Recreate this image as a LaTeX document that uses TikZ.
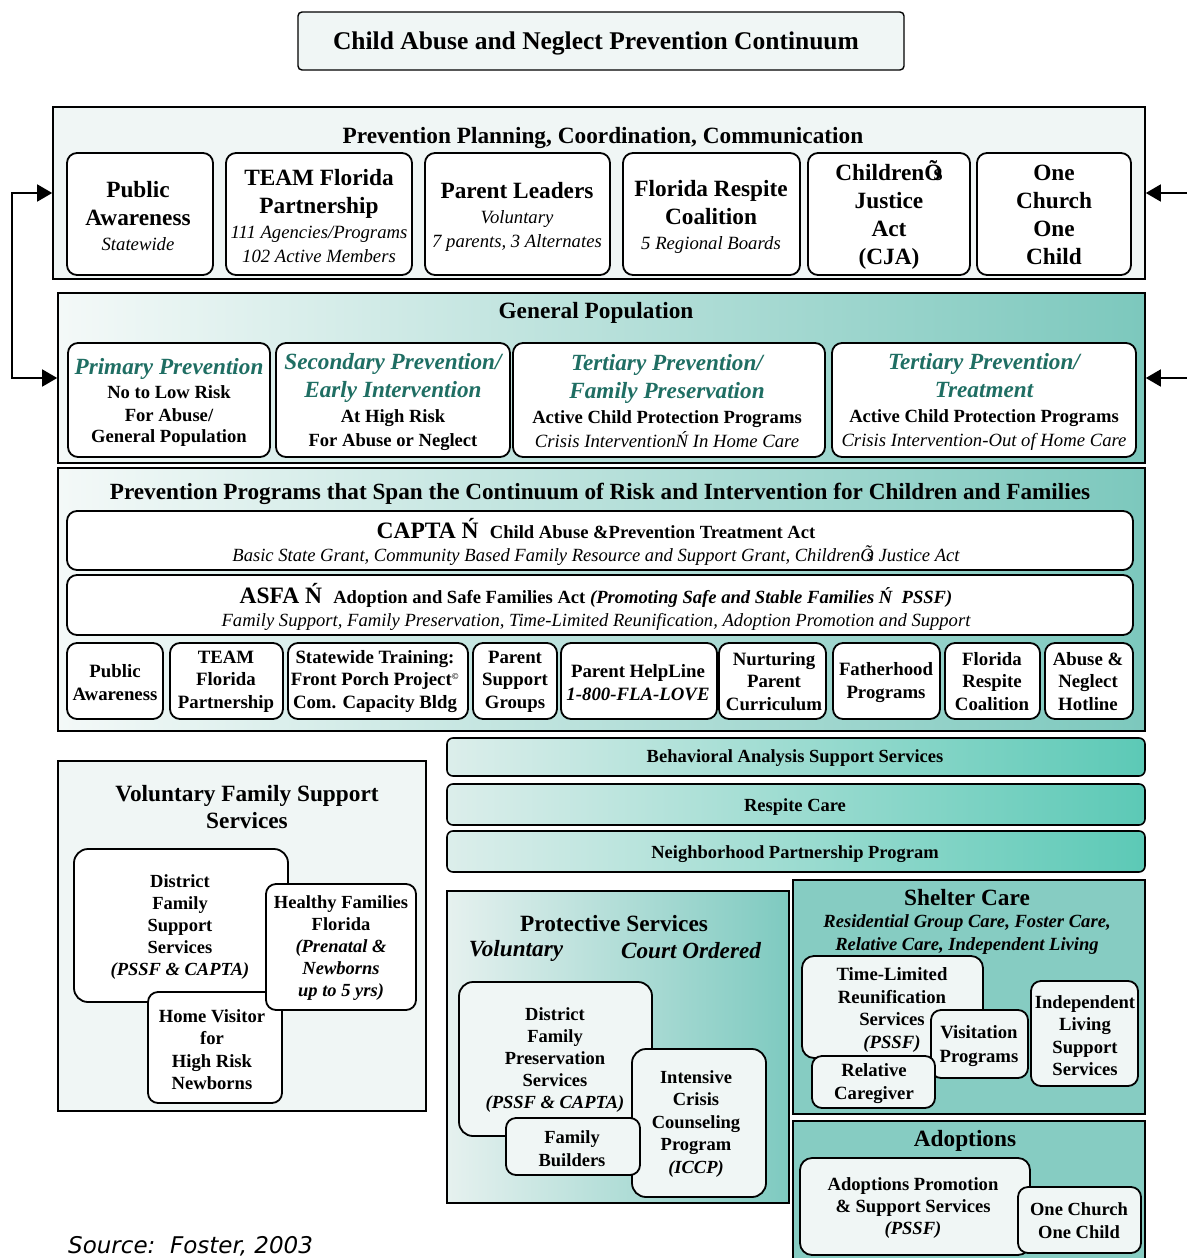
\documentclass[tikz,border=0pt]{standalone}
\usepackage{fontspec}
\setmainfont{Liberation Serif}
\newfontfamily\srcfont{DejaVu Sans}
\usetikzlibrary{arrows.meta}
\definecolor{lightbg}{HTML}{F0F6F5}
\definecolor{tealA}{HTML}{86CCC2}
\definecolor{tealtxt}{HTML}{1F6E63}
\definecolor{gradL}{HTML}{F4F9F8}
\definecolor{gradR}{HTML}{7CC8BD}
\definecolor{bandL}{HTML}{DCEEEB}
\definecolor{bandR}{HTML}{5CC9B6}
\definecolor{protL}{HTML}{E6F1EF}
\definecolor{protR}{HTML}{7ECAC0}
\newcommand\fs[2]{\fontsize{#1}{#2}\selectfont}
\newcommand\Os{Õ\kern-.38em s}
\newcommand\bx[6]{\node[#6, minimum width={(#4)-(#2)}, minimum height={(#5)-(#3)}] (#1) at ({((#2)+(#4))/2},{((#3)+(#5))/2}) {};}
\tikzset{
 cont/.style={draw, line width=1.6pt, inner sep=0pt},
 wbox/.style={draw, line width=1.8pt, rounded corners=10pt, fill=white, inner sep=0pt},
 lbox/.style={wbox, fill=lightbg},
 band/.style={draw, line width=1.6pt, rounded corners=6pt, inner sep=0pt, left color=bandL, right color=bandR},
 txt/.style={align=center, inner sep=0pt},
 arr/.style={line width=1.6pt, -{Triangle[length=15pt,width=17pt]}},
 tl/.style={txt, font=\bfseries\fs{23.3}{28}},
 gp/.style={txt, font=\bfseries\fs{18.6}{23}},
 sm/.style={txt, font=\bfseries\fs{18.8}{22.5}},
 hd/.style={txt, font=\bfseries\fs{23.3}{27}},
}
\newcommand\itx{\mdseries\itshape\fs{18.7}{22}}
\newcommand\tealit{\color{tealtxt}\itshape\fs{23.2}{28}}
\begin{document}
\begin{tikzpicture}[x=1pt,y=-1pt]
\useasboundingbox (0,0) rectangle (1186,1258);

% title
\bx{title}{298}{12}{904}{70}{lbox, rounded corners=4pt, line width=1.4pt}
\node[txt, font=\bfseries\fs{25.5}{28}] (titlet) at (596,43) {Child Abuse and Neglect Prevention Continuum};

% planning
\bx{plan}{53}{107}{1145}{279}{cont, fill=lightbg}
\node[hd] (plant) at (603,137.5) {Prevention Planning, Coordination, Communication};
\bx{pa1}{67}{153}{213}{275}{wbox}
\node[tl] (pa1t) at (138,216) {Public\\Awareness\\[-3pt]{\itx Statewide}};
\bx{tf1}{226}{153}{412}{275}{wbox}
\node[tl] (tf1t) at (319,216) {TEAM Florida\\Partnership\\[-3pt]{\itx 111 Agencies/Programs}\\[-4pt]{\itx 102 Active Members}};
\bx{pl1}{425}{153}{610}{275}{wbox}
\node[tl] (pl1t) at (517,216.5) {Parent Leaders\\[-3pt]{\itx Voluntary}\\[-4pt]{\itx 7 parents, 3 Alternates}};
\bx{fr1}{623}{153}{800}{275}{wbox}
\node[tl] (fr1t) at (711,216.5) {Florida Respite\\Coalition\\[-3pt]{\itx 5 Regional Boards}};
\bx{cj1}{808}{153}{970}{275}{wbox}
\node[tl] (cj1t) at (889,215) {Children\Os\\Justice\\Act\\(CJA)};
\bx{oc1}{977}{153}{1131}{275}{wbox}
\node[tl] (oc1t) at (1054,215) {One\\Church\\One\\Child};

% general population
\bx{gen}{58}{293}{1145}{463}{cont, left color=gradL, right color=gradR}
\node[hd] (gent) at (596,313) {General Population};
\bx{pp}{68}{343}{270}{457}{wbox}
\node[gp] (ppt) at (169,402) {{\tealit Primary Prevention}\\[1pt]No to Low Risk\\For Abuse/\\[-2pt]General Population};
\bx{sp}{276}{343}{510}{457}{wbox}
\node[gp] (spt) at (393,402) {{\tealit Secondary Prevention/}\\[5pt]{\tealit Early Intervention}\\[2pt]At High Risk\\[1pt]For Abuse or Neglect};
\bx{tfp}{513}{343}{825}{457}{wbox}
\node[gp] (tfpt) at (667,401) {{\tealit Tertiary Prevention/}\\[5pt]{\tealit Family Preservation}\\[2pt]Active Child Protection Programs\\[1pt]{\itx Crisis InterventionŃ In Home Care}};
\bx{ttr}{832}{343}{1136}{457}{wbox}
\node[gp] (ttrt) at (984,402) {{\tealit Tertiary Prevention/}\\[5pt]{\tealit Treatment}\\[2pt]Active Child Protection Programs\\[1pt]{\itx Crisis Intervention-Out of Home Care}};

% programs
\bx{prog}{58}{468}{1145}{731}{cont, left color=gradL, right color=gradR}
\node[txt, font=\bfseries\fs{23.2}{26}] (progt) at (600,493.5) {Prevention Programs that Span the Continuum of Risk and Intervention for Children and Families};
\bx{capta}{67}{511}{1133}{570}{wbox}
\node[txt, font=\bfseries\fs{18.6}{23}] (captat) at (596,542) {{\fs{23.5}{23}CAPTA Ń}\hspace{0.6em}Child Abuse \&Prevention Treatment Act\\{\mdseries\itshape Basic State Grant, Community Based Family Resource and Support Grant, Children\Os\ Justice Act}};
\bx{asfa}{67}{575}{1133}{635}{wbox}
\node[txt, font=\bfseries\fs{18.6}{23}] (asfat) at (596,607) {{\fs{23.5}{23}ASFA Ń}\hspace{0.6em}Adoption and Safe Families Act {\itshape (Promoting Safe and Stable Families Ń\ \ PSSF)}\\{\mdseries\itshape Family Support, Family Preservation, Time-Limited Reunification, Adoption Promotion and Support}};
\bx{sb1}{67}{643}{163}{719}{wbox}
\node[sm] (sb1t) at (115,682.5) {Public\\Awareness};
\bx{sb2}{170}{643}{283}{719}{wbox}
\node[sm] (sb2t) at (226,681.5) {TEAM\\Florida\\Partnership};
\bx{sb3}{288}{643}{468}{719}{wbox}
\node[sm] (sb3t) at (375,681.5) {Statewide Training:\\Front Porch Project\textsuperscript{\fs{9}{9}©}\\Com. Capacity Bldg};
\bx{sb4}{473}{643}{557}{719}{wbox}
\node[sm] (sb4t) at (515,681.5) {Parent\\Support\\Groups};
\bx{sb5}{561}{643}{717}{719}{wbox}
\node[sm] (sb5t) at (638,682.5) {Parent HelpLine\\{\itshape 1-800-FLA-LOVE}};
\bx{sb6}{719}{643}{826}{719}{wbox}
\node[sm] (sb6t) at (774,681.5) {Nurturing\\Parent\\Curriculum};
\bx{sb7}{833}{643}{940}{719}{wbox}
\node[sm] (sb7t) at (886,682.5) {Fatherhood\\Programs};
\bx{sb8}{945}{643}{1040}{719}{wbox}
\node[sm] (sb8t) at (992,681.5) {Florida\\Respite\\Coalition};
\bx{sb9}{1045}{643}{1133}{719}{wbox}
\node[sm] (sb9t) at (1088,681.5) {Abuse \&\\Neglect\\Hotline};

% bands
\bx{b1}{447}{738}{1145}{776}{band}
\node[txt, font=\bfseries\fs{18.5}{20}] (b1t) at (795,758) {Behavioral Analysis Support Services};
\bx{b2}{447}{784}{1145}{825}{band}
\node[txt, font=\bfseries\fs{18.5}{20}] (b2t) at (795,807) {Respite Care};
\bx{b3}{447}{831}{1145}{872}{band}
\node[txt, font=\bfseries\fs{18.5}{20}] (b3t) at (795,854) {Neighborhood Partnership Program};

% voluntary family support
\bx{vol}{58}{761}{426}{1111}{cont, fill=lightbg}
\node[hd] (volt) at (247,807) {Voluntary Family Support\\Services};
\bx{dfs}{74}{849}{288}{1002}{wbox, rounded corners=14pt}
\node[sm, font=\bfseries\fs{18.5}{22}] (dfst) at (180,927) {District\\Family\\Support\\Services\\{\itshape (PSSF \& CAPTA)}};
\bx{hv}{148}{992}{282}{1103}{wbox}
\node[sm, font=\bfseries\fs{18.6}{22.3}] (hvt) at (212,1049.5) {Home Visitor\\for\\High Risk\\Newborns};
\bx{hf}{266}{884}{416}{1010}{wbox}
\node[sm, font=\bfseries\fs{18.5}{22}] (hft) at (341,948) {Healthy Families\\Florida\\{\itshape (Prenatal \&}\\{\itshape Newborns}\\{\itshape up to 5 yrs)}};

% protective services
\bx{prot}{447}{891}{789}{1203}{cont, left color=protL, right color=protR}
\node[hd] (prott) at (614,923.5) {Protective Services};
\node[txt, font=\bfseries\itshape\fs{23.2}{26}] (volun) at (516,951) {Voluntary};
\node[txt, font=\bfseries\itshape\fs{23.2}{26}] (court) at (691,951) {Court Ordered};
\bx{dfp}{459}{982}{652}{1136}{lbox, rounded corners=14pt}
\node[sm, font=\bfseries\fs{18.5}{22}] (dfpt) at (555,1060) {District\\Family\\Preservation\\Services\\{\itshape (PSSF \& CAPTA)}};
\bx{iccp}{632}{1049}{766}{1197}{lbox, rounded corners=14pt}
\node[sm, font=\bfseries\fs{18.5}{22.5}] (iccpt) at (696,1124) {Intensive\\Crisis\\Counseling\\Program\\{\itshape (ICCP)}};
\bx{fb}{506}{1118}{640}{1175}{lbox}
\node[sm, font=\bfseries\fs{18.5}{23}] (fbt) at (572,1148.5) {Family\\Builders};

% shelter care
\bx{shel}{793}{880}{1145}{1114}{cont, fill=tealA}
\node[hd] (shelt) at (967,898) {Shelter Care};
\node[txt, font=\bfseries\itshape\fs{18.6}{23}] (shels) at (967,934.5) {Residential Group Care, Foster Care,\\Relative Care, Independent Living};
\bx{tlr}{802}{956}{983}{1058}{lbox, rounded corners=12pt}
\node[sm, font=\bfseries\fs{18.7}{22.7}] (tlrt) at (892,1010) {Time-Limited\\Reunification\\Services\\{\itshape (PSSF)}};
\bx{vp}{931}{1010}{1028}{1078}{lbox}
\node[sm, font=\bfseries\fs{18.7}{24}] (vpt) at (979,1046) {Visitation\\Programs};
\bx{rc}{812}{1056}{935}{1108}{lbox}
\node[sm, font=\bfseries\fs{18.7}{23}] (rct) at (874,1083.5) {Relative\\Caregiver};
\bx{il}{1031}{981}{1138}{1086}{lbox}
\node[sm, font=\bfseries\fs{18.6}{22.3}] (ilt) at (1085,1035.5) {Independent\\Living\\Support\\Services};

% adoptions
\bx{adop}{793}{1121}{1145}{1266}{cont, fill=tealA}
\node[hd] (adopt) at (965,1140.5) {Adoptions};
\bx{ap}{800}{1158}{1030}{1255}{lbox, rounded corners=12pt}
\node[sm, font=\bfseries\fs{18.6}{22.5}] (apt) at (913,1208) {Adoptions Promotion\\\& Support Services\\[-1pt]{\itshape (PSSF)}};
\bx{occ}{1018}{1187}{1141}{1253}{lbox}
\node[sm, font=\bfseries\fs{18.5}{23}] (occt) at (1079,1220.5) {One Church\\One Child};

% source
\node[anchor=base west, inner sep=0pt, font=\srcfont\itshape\fs{23}{27}] (src) at (68,1253) {Source:\ \ Foster, 2003};

% connectors
\coordinate (lj) at (12,286);
\draw[arr] (lj) |- (plan.west);
\draw[arr] (lj) |- (gen.west);
\coordinate (rp) at (1190,193);
\coordinate (rg) at (1190,378);
\draw[arr] (rp) -- (plan.east);
\draw[arr] (rg) -- (gen.east);
\end{tikzpicture}
\end{document}
